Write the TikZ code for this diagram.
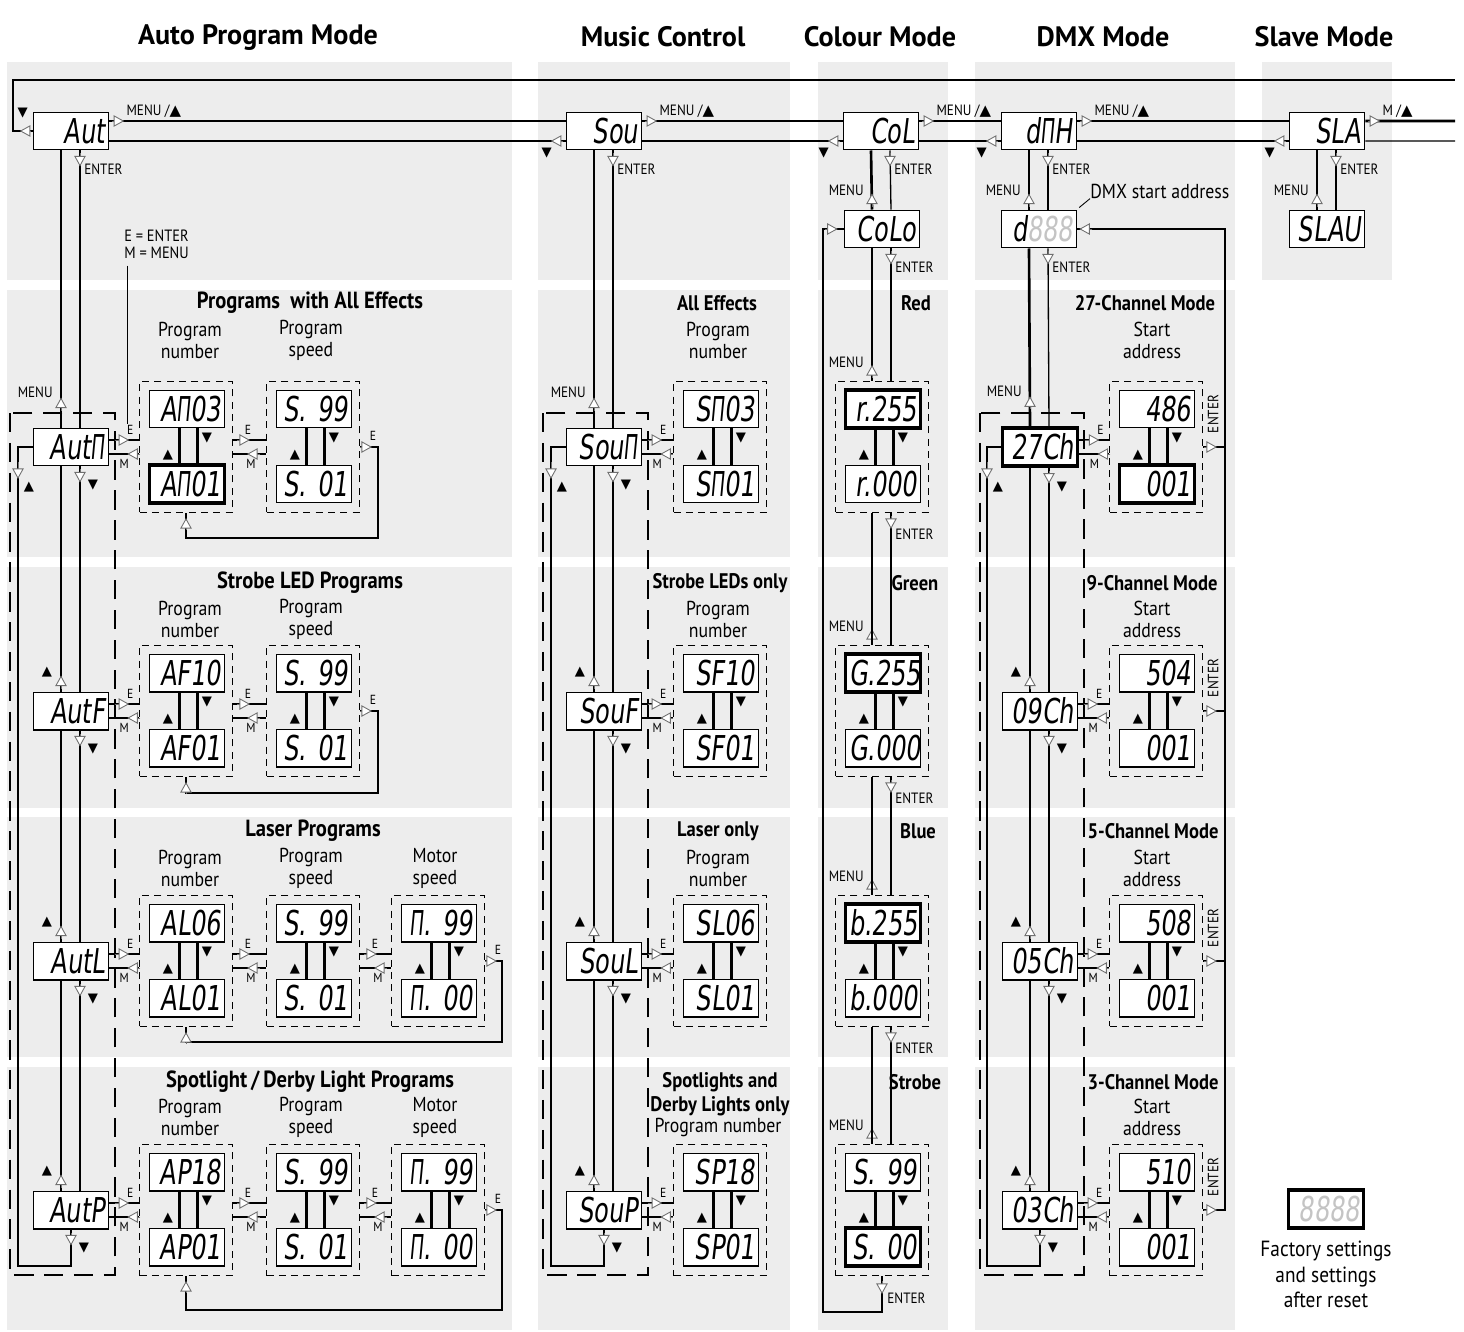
\documentclass[tikz,border=0pt]{standalone}
\usepackage{fontspec}
\setmainfont{PT Sans}[FakeStretch=0.88]
\newfontfamily\hdrfont{PT Sans}
\newfontfamily\segfont{DejaVu Sans}[FakeStretch=0.7,FakeSlant=0.12]
\newfontfamily\symfont{DejaVu Sans}
\usetikzlibrary{arrows.meta,positioning}

\definecolor{panelgray}{HTML}{EDEDED}
\definecolor{ghostgray}{HTML}{C4C4C4}
\definecolor{tipgray}{HTML}{707070}

\newcommand{\keyup}{{\symfont ▲}}
\newcommand{\keydn}{{\symfont ▼}}
\newcommand{\segM}{\scalebox{0.78}[1]{Π}}

\tikzset{
  disp/.style={draw, fill=white, line width=0.85pt, minimum width=1.5cm,
    minimum height=0.75cm, text width=1.36cm, align=right, inner xsep=0.07cm,
    inner ysep=0pt, font=\segfont\fontsize{19.5}{19.5}\selectfont},
  dispdef/.style={disp, line width=2.2pt},
  grp/.style={draw, line width=0.6pt, dash pattern=on 4pt off 3pt,
    minimum width=1.86cm, minimum height=2.62cm, inner sep=0pt},
  modeframe/.style={draw, line width=0.7pt, dash pattern=on 11pt off 6pt},
  menuln/.style={line width=1.5pt},
  entln/.style={line width=0.75pt},
  pairln/.style={line width=1.3pt},
  loopln/.style={line width=1.2pt},
  leader/.style={line width=0.5pt},
  otip/.style={draw=tipgray, line width=0.5pt,
    -{Triangle[fill=white, length=6pt, width=6.5pt]}},
  keymk/.style={inner sep=0pt, font=\symfont\fontsize{7.5}{7.5}\selectfont},
  lbl/.style={inner sep=0pt, font=\fontsize{8.5}{8.5}\selectfont},
  emlbl/.style={inner sep=0pt, font=\fontsize{7.5}{7.5}\selectfont},
  hdr/.style={font=\hdrfont\bfseries\fontsize{16}{16}\selectfont},
  rowhdr/.style={align=center, inner sep=0pt, font=\bfseries\fontsize{12}{14}\selectfont},
  autohdr/.style={rowhdr, font=\bfseries\fontsize{13.3}{14}\selectfont},
  sublbl/.style={align=center, inner sep=0pt, font=\fontsize{11.5}{12.5}\selectfont},
  hi/.style={yshift=0.2cm}, lo/.style={yshift=-0.2cm},
  tk/.style={xshift=-0.2cm}, tn/.style={xshift=0.18cm},
  eln/.style={yshift=0.14cm}, mln/.style={yshift=-0.14cm}
}

% display group: name, x, y, top text, bottom text, top style, bottom style
\newcommand{\dgroup}[7]{%
  \node[grp] (#1) at (#2,#3) {};
  \node[#6] (#1t) at (#2+1,#3-38) {\mbox{#4}};
  \node[#7] (#1b) at (#2+1,#3+37) {\mbox{#5}};
  \draw[pairln] ([xshift=-0.15cm]#1t.south) -- ([xshift=-0.15cm]#1b.north);
  \draw[pairln] ([xshift=0.21cm]#1t.south) -- ([xshift=0.21cm]#1b.north);
  \node[keymk] at (#2-18,#3+8) {\keyup};
  \node[keymk] at (#2+21,#3-9) {\keydn};
}

\begin{document}
\begin{tikzpicture}[x=0.02cm, y=-0.02cm]
\useasboundingbox (0,0) rectangle (1464,1332);

% gray panels
\foreach \xa/\xb in {7/512, 538/790, 818/948, 975/1235}
  \foreach \ya/\yb in {62/280, 290/557, 567/808, 817/1057, 1067/1330}
    \fill[panelgray] (\xa,\ya) rectangle (\xb,\yb);
\fill[panelgray] (1262,62) rectangle (1392,280);

% column headings
\node[hdr] (hauto) at (258,37) {Auto Program Mode};
\node[hdr] (hmusic) at (663,37) {Music Control};
\node[hdr] (hcol) at (880,37) {Colour Mode};
\node[hdr] (hdmx) at (1103,37) {DMX Mode};
\node[hdr] (hslave) at (1324,37) {Slave Mode};

% dashed frames round the mode chains
\draw[modeframe] (10,413) rectangle (115,1275);
\draw[modeframe] (543,413) rectangle (648,1275);
\draw[modeframe] (980,413) rectangle (1084,1275);

% top level menu
\node[disp] (aut) at (71,131) {Aut};
\node[disp] (sou) at (604,131) {Sou};
\node[disp] (col) at (881,131) {CoL};
\node[disp] (dmx) at (1039,131) {d\segM H};
\node[disp] (sla) at (1327,131) {SLA};
\node[disp] (colo) at (882,229) {CoLo};
\node[disp] (dadr) at (1039,229) {d\textcolor{ghostgray}{888}};
\node[disp] (slau) at (1327,229) {SLAU};
\node[sublbl, anchor=west] (dmxaddr) at (1090,191) {DMX start address};
\draw[leader] (dadr.north east) ++(2,-2) -- (dmxaddr.south west);

% mode chains
\node[disp] (aut1) at (71,447) {Aut\segM};
\node[disp] (aut2) at (71,711) {AutF};
\node[disp] (aut3) at (71,961) {AutL};
\node[disp] (aut4) at (71,1210) {AutP};
\node[disp] (sou1) at (604,447) {Sou\segM};
\node[disp] (sou2) at (604,711) {SouF};
\node[disp] (sou3) at (604,961) {SouL};
\node[disp] (sou4) at (604,1210) {SouP};
\node[dispdef] (dmx1) at (1040,447) {27Ch};
\node[disp] (dmx2) at (1040,711) {09Ch};
\node[disp] (dmx3) at (1040,961) {05Ch};
\node[disp] (dmx4) at (1040,1210) {03Ch};

% display groups
\dgroup{ga1}{186}{447}{A\segM 03}{A\segM 01}{disp}{dispdef}
\dgroup{gb1}{313}{447}{S.\ 99}{S.\ 01}{disp}{disp}
\dgroup{ga2}{186}{711}{AF10}{AF01}{disp}{disp}
\dgroup{gb2}{313}{711}{S.\ 99}{S.\ 01}{disp}{disp}
\dgroup{ga3}{186}{961}{AL06}{AL01}{disp}{disp}
\dgroup{gb3}{313}{961}{S.\ 99}{S.\ 01}{disp}{disp}
\dgroup{gc3}{438}{961}{\segM.\ 99}{\segM.\ 00}{disp}{disp}
\dgroup{ga4}{186}{1210}{AP18}{AP01}{disp}{disp}
\dgroup{gb4}{313}{1210}{S.\ 99}{S.\ 01}{disp}{disp}
\dgroup{gc4}{438}{1210}{\segM.\ 99}{\segM.\ 00}{disp}{disp}
\dgroup{gs1}{720}{447}{S\segM 03}{S\segM 01}{disp}{disp}
\dgroup{gs2}{720}{711}{SF10}{SF01}{disp}{disp}
\dgroup{gs3}{720}{961}{SL06}{SL01}{disp}{disp}
\dgroup{gs4}{720}{1210}{SP18}{SP01}{disp}{disp}
\dgroup{gk1}{882}{447}{r.255}{r.000}{dispdef}{disp}
\dgroup{gk2}{882}{711}{G.255}{G.000}{dispdef}{disp}
\dgroup{gk3}{882}{961}{b.255}{b.000}{dispdef}{disp}
\dgroup{gk4}{882}{1210}{S.\ 99}{S.\ 00}{disp}{dispdef}
\dgroup{gd1}{1156}{447}{486}{001}{disp}{dispdef}
\dgroup{gd2}{1156}{711}{504}{001}{disp}{disp}
\dgroup{gd3}{1156}{961}{508}{001}{disp}{disp}
\dgroup{gd4}{1156}{1210}{510}{001}{disp}{disp}

% row headings
\node[autohdr] (ta1) at (310,303) {Programs~ with All Effects};
\node[autohdr] (ta2) at (310,583) {Strobe LED Programs};
\node[autohdr] (ta3) at (313,831) {Laser Programs};
\node[autohdr] (ta4) at (310,1082) {Spotlight\,/\,Derby Light Programs};
\node[rowhdr] (ts1) at (717,303) {All Effects};
\node[rowhdr] (ts2) at (720,583) {Strobe LEDs only};
\node[rowhdr] (ts3) at (718,831) {Laser only};
\node[rowhdr] (ts4) at (720,1094) {Spotlights and\\Derby Lights only};
\node[rowhdr] (tk1) at (916,303) {Red};
\node[rowhdr] (tk2) at (915,583) {Green};
\node[rowhdr] (tk3) at (918,831) {Blue};
\node[rowhdr] (tk4) at (915,1082) {Strobe};
\node[rowhdr] (td1) at (1145,303) {27-Channel Mode};
\node[rowhdr] (td2) at (1152,583) {9-Channel Mode};
\node[rowhdr] (td3) at (1153,831) {5-Channel Mode};
\node[rowhdr] (td4) at (1153,1082) {3-Channel Mode};
\foreach \y in {340,619,868,1117} {
  \node[sublbl] at (190,\y) {Program\\number};
  \node[sublbl] at (311,\y) {Program\\speed};
  \node[sublbl] at (1152,\y) {Start\\address};
}
\foreach \y in {340,619,868} \node[sublbl] at (718,\y) {Program\\number};
\node[sublbl] at (718,1127) {Program number};
\foreach \y in {868,1117} \node[sublbl] at (435,\y) {Motor\\speed};
\node[lbl, align=left, anchor=west, font=\fontsize{9.3}{9.5}\selectfont] (legend) at (124,244) {E = ENTER\\M = MENU};
\draw[leader] (legend.south west) ++(3,7) -- ++(0,158);

% top loop
\coordinate (wrapl) at (13,80);
\coordinate (wrapr) at (1455,80);
\coordinate (outhi) at (1455,121);
\coordinate (outlo) at (1455,141);
\draw[menuln] (aut.west) -| (wrapl) -- (wrapr);
\foreach \a/\b in {aut/sou, sou/col, col/dmx, dmx/sla} {
  \draw[menuln] ([hi]\a.east) -- ([hi]\b.west);
  \draw[entln] ([lo]\a.east) -- ([lo]\b.west);
}
\draw[menuln] ([hi]sla.east) -- (outhi);
\draw[entln] ([lo]sla.east) -- (outlo);
\foreach \n in {aut,sou,col,dmx,sla}
  \draw[otip] ([hi]\n.east) ++(3,0) -- ++(12,0);
\foreach \n in {sou,col,dmx,sla} {
  \draw[otip] ([lo]\n.west) ++(-3,0) -- ++(-12,0);
  \path ([lo]\n.west) ++(-19,12) node[keymk] {\keydn};
}
\draw[otip] (aut.west) ++(-2,0) -- ++(-11,0);
\path (aut.west) ++(-10,-18) node[keymk] {\keydn};
\foreach \n in {aut,sou,col,dmx}
  \path ([hi]\n.east) ++(17,-10) node[lbl, anchor=west] {MENU /\keyup};
\path ([hi]sla.east) ++(17,-10) node[lbl, anchor=west] {M /\keyup};

% down from the top level
\foreach \a/\b in {aut/aut1, sou/sou1, col/colo, dmx/dadr, dadr/dmx1, colo/gk1} {
  \draw[menuln] ([tk]\a.south) -- ([tk]\b.north);
  \draw[entln] ([tn]\a.south) -- ([tn]\b.north);
}
\draw[entln] ([tk]sla.south) -- ([tk]slau.north);
\draw[menuln] ([tn]sla.south) -- ([tn]slau.north);
\foreach \n in {aut,sou,col,dmx,sla,colo,dadr} {
  \draw[otip] ([tn]\n.south) ++(0,3) -- ++(0,13);
  \path ([tn]\n.south) ++(4,19) node[lbl, anchor=west] {ENTER};
}
\foreach \n in {aut1,sou1,dmx1} {
  \draw[otip] ([tk]\n.north) ++(0,-17) -- ++(0,-13);
  \path ([tk]\n.north) ++(-8,-35) node[lbl, anchor=east] {MENU};
}
\foreach \n in {colo,dadr,slau,gk1,gk2,gk3,gk4} {
  \draw[otip] ([tk]\n.north) ++(0,-3) -- ++(0,-13);
  \path ([tk]\n.north) ++(-8,-19) node[lbl, anchor=east] {MENU};
}

% chains of modes
\foreach \c in {aut,sou,dmx} {
  \foreach \a/\b in {1/2,2/3,3/4} {
    \draw[menuln] ([tk]\c\a.south) -- ([tk]\c\b.north);
    \draw[entln] ([tn]\c\a.south) -- ([tn]\c\b.north);
    \draw[otip] ([tk]\c\b.north) ++(0,-3) -- ++(0,-13);
    \path ([tk]\c\b.north) ++(-14,-19) node[keymk] {\keyup};
  }
  \foreach \a in {1,2,3} {
    \draw[otip] ([tn]\c\a.south) ++(0,3) -- ++(0,13);
    \path ([tn]\c\a.south) ++(13,19) node[keymk] {\keydn};
  }
}
\foreach \c/\lx in {aut/18, sou/551, dmx/987} {
  \draw[menuln] (\c4.south) |- (\lx,1266) |- (\c1.west);
  \draw[otip] (\c4.south) ++(0,3) -- ++(0,13);
  \path (\c4.south) ++(13,19) node[keymk] {\keydn};
  \draw[otip] (\lx,462) -- (\lx,479);
  \path (\lx,487) ++(11,0) node[keymk] {\keyup};
}

% ENTER / MENU into the display groups
\foreach \c/\g in {aut/ga, sou/gs, dmx/gd} {
  \foreach \i in {1,...,4} {
    \draw[entln] ([eln]\c\i.east) -- ([eln]\g\i.west);
    \draw[entln] ([mln]\c\i.east) -- ([mln]\g\i.west);
    \draw[otip] ([eln]\c\i.east) ++(6,0) -- ++(14,0);
    \draw[otip] ([mln]\c\i.east) ++(31,0) -- ++(-13,0);
    \path ([eln]\c\i.east) ++(21,-10) node[emlbl] {E};
    \path ([mln]\c\i.east) ++(15,10) node[emlbl] {M};
  }
}
\foreach \a/\b in {ga1/gb1, ga2/gb2, ga3/gb3, ga4/gb4, gb3/gc3, gb4/gc4} {
  \draw[entln] ([eln]\a.east) -- ([eln]\b.west);
  \draw[entln] ([mln]\a.east) -- ([mln]\b.west);
  \draw[otip] ([eln]\a.east) ++(4,0) -- ++(13,0);
  \draw[otip] ([mln]\a.east) ++(27,0) -- ++(-13,0);
  \path ([eln]\a.east) ++(15,-10) node[emlbl] {E};
  \path ([mln]\a.east) ++(18,10) node[emlbl] {M};
}
\foreach \g/\h/\rx/\ry in {gb1/ga1/378/538, gb2/ga2/378/793, gc3/ga3/502/1042, gc4/ga4/502/1310} {
  \draw[loopln] (\g.east) -| (\rx,\ry) -| (\h.south);
  \draw[otip] (\g.east) ++(0,0) -- ++(12,0);
  \path (\g.east) ++(13,-11) node[emlbl] {E};
  \draw[otip] (\h.south) ++(0,17) -- ++(0,-12);
}

% colour chain
\foreach \a/\b in {gk1/gk2, gk2/gk3, gk3/gk4} {
  \draw[menuln] ([tk]\a.south) -- ([tk]\b.north);
  \draw[entln] ([tn]\a.south) -- ([tn]\b.north);
  \draw[otip] ([tn]\a.south) ++(0,3) -- ++(0,13);
  \path ([tn]\a.south) ++(4,21) node[lbl, anchor=west] {ENTER};
}
\draw[menuln] (gk4.south) |- (823,1312) |- (colo.west);
\draw[otip] (gk4.south) ++(0,5) -- ++(0,13);
\path (gk4.south) ++(5,22) node[lbl, anchor=west] {ENTER};
\draw[otip] (colo.west) ++(-19,0) -- ++(13,0);

% DMX start address return rail
\coordinate (rail) at (1225,229);
\draw[menuln] (gd4.east) -| (rail) -- (dadr.east);
\foreach \i in {1,2,3} \draw[menuln] (gd\i.east) -- (gd\i.east -| rail);
\foreach \i in {1,...,4} {
  \draw[otip] (gd\i.east) ++(1,0) -- ++(13,0);
  \path (gd\i.east) ++(10,-33) node[lbl, rotate=90] {ENTER};
}
\draw[otip] (dadr.east) ++(15,0) -- ++(-13,0);

% factory settings key
\node[dispdef] (fdef) at (1326,1209) {\textcolor{ghostgray}{8888}};
\node[sublbl, below=0.22cm of fdef, font=\fontsize{12.5}{14.5}\selectfont] (ftxt) {Factory settings\\and settings\\after reset};
\end{tikzpicture}
\end{document}
